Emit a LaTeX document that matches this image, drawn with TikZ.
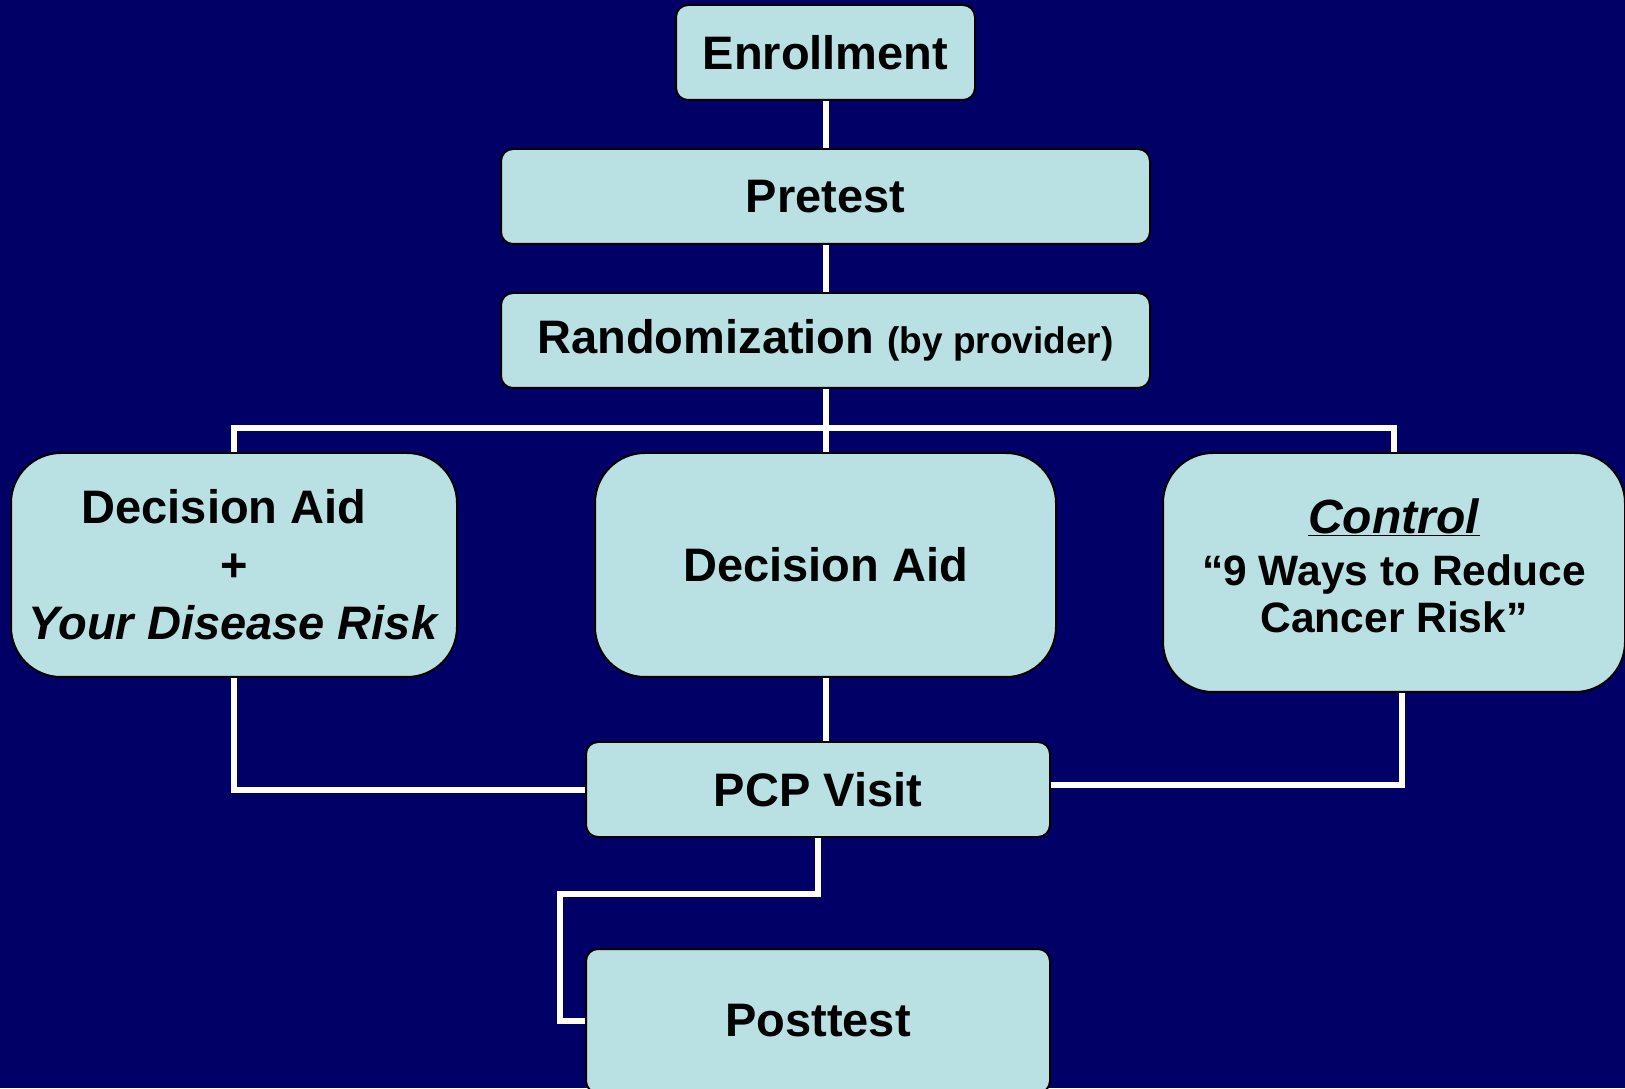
\documentclass[tikz,border=0pt]{standalone}
\usepackage{fontspec}
\setmainfont{Liberation Sans}
\definecolor{navy}{RGB}{0,0,102}
\definecolor{boxfill}{RGB}{185,224,227}
\begin{document}
\begin{tikzpicture}[x=1pt,y=1pt]
\tikzset{kasten/.style={draw=black,line width=2pt,fill=boxfill,rounded corners=12pt,inner sep=0pt,align=center,font=\fontsize{47}{58}\selectfont\bfseries}}
\tikzset{grosskasten/.style={kasten,rounded corners=50pt}}
\tikzset{linie/.style={draw=white,line width=6pt}}
\fill[navy] (0,0) rectangle (1625,1088);
\useasboundingbox (0,0) rectangle (1625,1088);
\node [kasten,minimum width=299pt,minimum height=95pt] (enroll) at (825.5,1035.5) {Enrollment};
\node [kasten,minimum width=649pt,minimum height=95pt] (pre) at (825.5,891.5) {Pretest};
\node [kasten,minimum width=649pt,minimum height=95pt] (rand) at (825.5,747.5) {Randomization {\fontsize{37}{44}\selectfont(by provider)}};
\node [grosskasten,minimum width=446pt,minimum height=224pt] (dayr) at (234,523) {Decision Aid\hspace*{20pt}\\+\hspace*{20pt}\\\textit{Your Disease Risk}};
\node [grosskasten,minimum width=461pt,minimum height=224pt] (da) at (825.5,523) {Decision Aid};
\node [grosskasten,minimum width=462pt,minimum height=239pt] (ctrl) at (1394,515.5) {\fontsize{48}{56}\selectfont\underline{\textit{Control}}\\[-6pt]\fontsize{42.5}{47}\selectfont “9 Ways to Reduce\\[-11pt]\fontsize{42.5}{47}\selectfont Cancer Risk”\rule[-14pt]{0pt}{1pt}};
\node [kasten,minimum width=464pt,minimum height=95pt] (pcp) at (818,298.5) {PCP Visit};
\node [kasten,minimum width=464pt,minimum height=144pt] (post) at (818,67) {Posttest};
\coordinate (gabel) at (825.5,660);
\draw[linie] (enroll) to (pre);
\draw[linie] (pre) to (rand);
\draw[linie] (rand) to (da);
\draw[linie] (dayr.north) |- (gabel) -| (ctrl.north);
\draw[linie] (dayr.south) |- (pcp.west);
\draw[linie] (da.south) to (da.south |- pcp.north);
\draw[linie] ([xshift=8pt]ctrl.south) |- ([yshift=4.5pt]pcp.east);
\draw[linie] (pcp.south) -- ++(0,-56) -| ([xshift=-25pt]post.west) -- (post.west);
\end{tikzpicture}
\end{document}
